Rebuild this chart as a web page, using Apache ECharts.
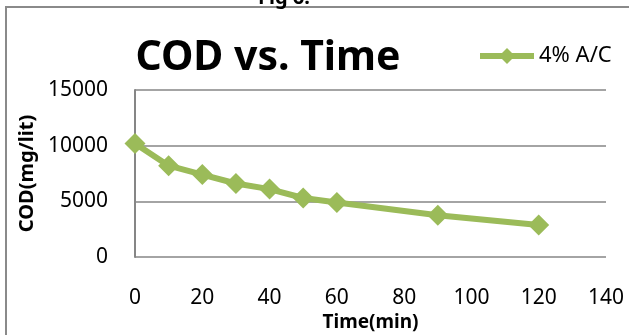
<!DOCTYPE html>
<html>
<head>
<meta charset="utf-8">
<script src="https://cdn.jsdelivr.net/npm/echarts@6/dist/echarts.min.js"></script>
<style>
html,body{margin:0;padding:0;background:#fff;}
#c{width:629px;height:335px;}
</style>
</head>
<body>
<div id="c"></div>
<script>
const timeMin = [0, 10, 20, 30, 40, 50, 60, 90, 120];
const codValues = [10200, 8200, 7400, 6600, 6100, 5300, 4900, 3750, 2870];
const seriesName = '4% A/C';
const xTicks = [0, 20, 40, 60, 80, 100, 120, 140];
const yTicks = [0, 5000, 10000, 15000];

const FONT = '"Noto Sans", sans-serif';
const chart = echarts.init(document.getElementById('c'));
chart.setOption({
  animation: false,
  backgroundColor: '#fff',
  title: {
    text: 'COD vs. Time',
    left: 263, top: 33, textAlign: 'center',
    textStyle: {fontFamily: FONT, fontWeight: 'bold', fontSize: 41, color: '#000'}
  },
  legend: {
    left: 477, top: 45, padding: 0,
    itemWidth: 54, itemHeight: 20, itemGap: 5,
    lineStyle: {width: 6},
    textStyle: {fontFamily: FONT, fontSize: 22, color: '#000'},
    data: [seriesName]
  },
  grid: {left: 135, right: 23, top: 90, bottom: 78, outerBoundsMode: 'none', containLabel: false},
  xAxis: {
    type: 'value', min: 0, max: 140, interval: 20,
    name: 'Time(min)', nameLocation: 'middle', nameGap: 56,
    nameTextStyle: {fontFamily: FONT, fontWeight: 'bold', fontSize: 19, color: '#000'},
    axisLine: {show: false}, axisTick: {show: false},
    splitLine: {show: false},
    axisLabel: {margin: 31, fontFamily: FONT, fontSize: 21, color: '#000', formatter: v => String(v)}
  },
  yAxis: {
    type: 'value', min: 0, max: 15000, interval: 5000,
    name: 'COD(mg/lit)', nameLocation: 'middle', nameGap: 95,
    nameTextStyle: {fontFamily: FONT, fontWeight: 'bold', fontSize: 20, color: '#000'},
    axisLine: {show: true, lineStyle: {color: '#868686', width: 2}},
    axisTick: {show: false},
    splitLine: {show: true, lineStyle: {color: '#868686', width: 1.5}},
    axisLabel: {margin: 27, fontFamily: FONT, fontSize: 21, color: '#000', formatter: v => String(v)}
  },
  graphic: [
    {type: 'rect', shape: {x: 6, y: 7, width: 640, height: 340}, style: {fill: 'none', stroke: '#8a8a8a', lineWidth: 2}},
    {type: 'text', left: 258, top: -12, style: {text: 'Fig 6.', font: 'bold 20px "Noto Sans", sans-serif', fill: '#000'}}
  ],
  series: [{
    name: seriesName,
    type: 'line',
    data: timeMin.map((t, i) => [t, codValues[i]]),
    symbol: 'diamond', symbolSize: 21,
    lineStyle: {color: '#9BBB59', width: 6},
    itemStyle: {color: '#9BBB59'}
  }]
});
</script>
</body>
</html>
